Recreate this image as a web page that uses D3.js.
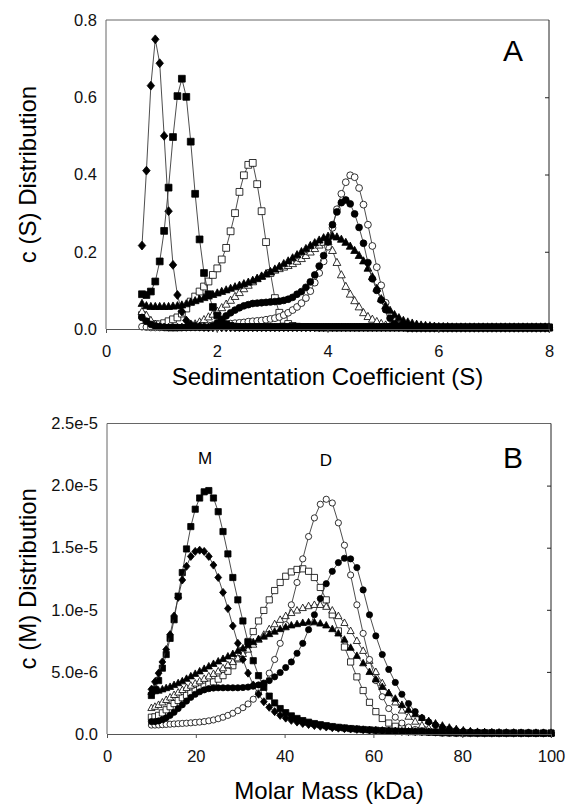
<!DOCTYPE html>
<html>
<head>
<meta charset="utf-8">
<script src="https://cdn.jsdelivr.net/npm/d3@7"></script>
<style>
  body { margin: 0; background: #fff; }
  svg { display: block; font-family: "Liberation Sans", Arial, sans-serif; }
</style>
</head>
<body>
<div id="chart"></div>
<script>
// ---- panel A: c(S), sedimentation coefficient grid (S)
const sGrid = [
  0.65,0.73,0.81,0.89,0.97,1.05,1.13,1.21,1.29,1.37,
  1.45,1.53,1.61,1.69,1.77,1.85,1.93,2.01,2.09,2.17,
  2.25,2.33,2.41,2.49,2.57,2.65,2.73,2.81,2.89,2.97,
  3.05,3.13,3.21,3.29,3.37,3.45,3.53,3.61,3.69,3.77,
  3.85,3.93,4.01,4.09,4.17,4.25,4.33,4.41,4.49,4.57,
  4.65,4.73,4.81,4.89,4.97,5.05,5.13,5.21,5.29,5.37,
  5.45,5.53,5.61,5.69,5.77,5.85,5.93,6.01,6.09,6.17,
  6.25,6.33,6.41,6.49,6.57,6.65,6.73,6.81,6.89,6.97,
  7.05,7.13,7.21,7.29,7.37,7.45,7.53,7.61,7.69,7.77,
  7.85,7.93,8.00];

const cS_diamond = [
  0.216,0.41,0.63,0.75,0.688,0.50,0.305,0.166,0.088,0.045,
  0.022,0.012,0.008,0.006,0.005,0.004,0.004,0.004,0.004,0.004,
  0.004,0.004,0.004,0.004,0.004,0.004,0.004,0.004,0.004,0.004,
  0.004,0.004,0.004,0.004,0.004,0.004,0.004,0.004,0.004,0.004,
  0.004,0.004,0.004,0.004,0.004,0.004,0.004,0.004,0.004,0.004,
  0.004,0.004,0.004,0.004,0.004,0.004,0.004,0.004,0.004,0.004,
  0.003,0.003,0.003,0.003,0.003,0.003,0.003,0.003,0.003,0.003,
  0.003,0.003,0.003,0.003,0.003,0.003,0.003,0.003,0.003,0.003,
  0.003,0.003,0.003,0.003,0.003,0.003,0.003,0.003,0.003,0.003,
  0.003,0.003,0.003];
const cS_squareF = [
  0.09,0.088,0.097,0.123,0.175,0.254,0.366,0.497,0.603,0.648,
  0.601,0.485,0.35,0.232,0.145,0.09,0.057,0.035,0.02,0.012,
  0.008,0.006,0.005,0.005,0.005,0.005,0.005,0.005,0.005,0.005,
  0.005,0.005,0.005,0.005,0.005,0.005,0.005,0.005,0.005,0.005,
  0.005,0.005,0.005,0.005,0.005,0.005,0.005,0.005,0.005,0.005,
  0.005,0.005,0.005,0.005,0.005,0.005,0.005,0.005,0.005,0.005,
  0.004,0.004,0.004,0.004,0.004,0.004,0.004,0.004,0.004,0.004,
  0.004,0.004,0.004,0.004,0.004,0.004,0.004,0.004,0.004,0.004,
  0.004,0.004,0.004,0.004,0.004,0.004,0.004,0.004,0.004,0.004,
  0.004,0.004,0.004];
const cS_squareO = [
  0.036,0.02,0.013,0.012,0.012,0.015,0.02,0.025,0.03,0.04,
  0.053,0.071,0.084,0.097,0.11,0.123,0.14,0.157,0.18,0.21,
  0.253,0.30,0.355,0.398,0.425,0.43,0.375,0.305,0.225,0.145,
  0.08,0.042,0.024,0.013,0.008,0.006,0.005,0.005,0.005,0.005,
  0.004,0.004,0.004,0.004,0.004,0.004,0.004,0.004,0.004,0.004,
  0.004,0.004,0.004,0.004,0.004,0.004,0.004,0.004,0.004,0.004,
  0.004,0.004,0.004,0.004,0.004,0.004,0.004,0.004,0.004,0.004,
  0.004,0.004,0.004,0.004,0.004,0.004,0.004,0.004,0.004,0.004,
  0.004,0.004,0.004,0.004,0.004,0.004,0.004,0.004,0.004,0.004,
  0.004,0.004,0.004];
const cS_triF = [
  0.066,0.06,0.058,0.058,0.058,0.058,0.058,0.059,0.06,0.062,
  0.065,0.069,0.073,0.077,0.081,0.085,0.089,0.093,0.097,0.101,
  0.105,0.109,0.113,0.117,0.121,0.126,0.131,0.136,0.142,0.148,
  0.155,0.162,0.169,0.176,0.184,0.192,0.2,0.208,0.216,0.223,
  0.23,0.236,0.24,0.241,0.238,0.232,0.224,0.214,0.203,0.19,
  0.176,0.157,0.135,0.105,0.078,0.06,0.048,0.037,0.029,0.022,
  0.018,0.015,0.012,0.01,0.009,0.008,0.007,0.006,0.006,0.006,
  0.005,0.005,0.005,0.005,0.005,0.005,0.005,0.005,0.005,0.005,
  0.005,0.005,0.005,0.005,0.005,0.005,0.005,0.005,0.005,0.005,
  0.005,0.005,0.005];
const cS_triO = [
  0.045,0.035,0.022,0.012,0.006,0.004,0.003,0.003,0.003,0.004,
  0.006,0.009,0.013,0.018,0.024,0.031,0.038,0.046,0.055,0.064,
  0.074,0.084,0.094,0.104,0.113,0.122,0.13,0.137,0.143,0.148,
  0.152,0.156,0.16,0.164,0.169,0.175,0.182,0.19,0.199,0.208,
  0.217,0.224,0.226,0.203,0.172,0.14,0.11,0.09,0.073,0.057,
  0.042,0.032,0.025,0.019,0.014,0.01,0.007,0.005,0.004,0.004,
  0.003,0.003,0.003,0.003,0.003,0.003,0.003,0.003,0.003,0.003,
  0.003,0.003,0.003,0.003,0.003,0.003,0.003,0.003,0.003,0.003,
  0.003,0.003,0.003,0.003,0.003,0.003,0.003,0.003,0.003,0.003,
  0.003,0.003,0.003];
const cS_circF = [
  0.03,0.02,0.012,0.008,0.006,0.005,0.004,0.004,0.004,0.004,
  0.004,0.004,0.004,0.004,0.004,0.004,0.008,0.016,0.025,0.034,
  0.042,0.049,0.055,0.06,0.063,0.066,0.067,0.068,0.069,0.07,
  0.071,0.072,0.074,0.077,0.082,0.09,0.097,0.108,0.122,0.14,
  0.163,0.19,0.225,0.27,0.303,0.327,0.334,0.324,0.298,0.263,
  0.222,0.172,0.13,0.1,0.075,0.05,0.028,0.014,0.008,0.005,
  0.004,0.004,0.004,0.004,0.004,0.004,0.004,0.004,0.004,0.004,
  0.004,0.004,0.004,0.004,0.004,0.004,0.004,0.004,0.004,0.004,
  0.004,0.004,0.004,0.004,0.004,0.004,0.004,0.004,0.004,0.004,
  0.004,0.004,0.004];
const cS_circO = [
  0.006,0.005,0.004,0.004,0.004,0.004,0.004,0.004,0.004,0.004,
  0.004,0.005,0.006,0.007,0.008,0.009,0.01,0.011,0.012,0.013,
  0.014,0.015,0.016,0.017,0.019,0.02,0.021,0.022,0.024,0.026,
  0.028,0.031,0.036,0.042,0.049,0.057,0.067,0.08,0.098,0.12,
  0.145,0.175,0.213,0.262,0.31,0.35,0.38,0.398,0.393,0.365,
  0.322,0.27,0.215,0.16,0.113,0.068,0.038,0.02,0.011,0.006,
  0.004,0.004,0.004,0.004,0.004,0.004,0.004,0.004,0.004,0.004,
  0.004,0.004,0.004,0.004,0.004,0.004,0.004,0.004,0.004,0.004,
  0.004,0.004,0.004,0.004,0.004,0.004,0.004,0.004,0.004,0.004,
  0.004,0.004,0.004];

const aXTicks = [0, 2, 4, 6, 8];
const aYTicks = [0, 0.2, 0.4, 0.6, 0.8];
const aYLabels = ["0.0", "0.2", "0.4", "0.6", "0.8"];

// ---- panel B: c(M), molar mass grid (kDa), values in units of 1e-6
const mGrid = [
  10.00,10.80,11.62,12.47,13.33,14.21,15.11,16.03,16.96,17.91,
  18.88,19.87,20.87,21.89,22.93,23.98,25.05,26.13,27.23,28.34,
  29.47,30.61,31.77,32.94,34.13,35.32,36.54,37.76,39.00,40.25,
  41.52,42.80,44.09,45.40,46.71,48.04,49.38,50.74,52.11,53.48,
  54.87,56.28,57.69,59.12,60.55,62.00,63.46,64.93,66.42,67.91,
  69.41,70.93,72.46,73.99,75.54,77.10,78.67,80.25,81.84,83.44,
  85.05,86.67,88.30,89.94,91.59,93.26,94.93,96.61,98.30,100.00];

const cM_squareF = [
  3.1,3.6,4.3,5.3,6.4,7.7,9.2,11.1,13.0,14.9,
  16.7,18.1,19.0,19.5,19.6,19.0,17.9,16.3,14.5,12.6,
  10.8,9.1,7.4,5.9,4.7,3.75,3.05,2.5,2.05,1.72,
  1.46,1.25,1.08,0.95,0.84,0.75,0.67,0.6,0.54,0.49,
  0.44,0.4,0.36,0.33,0.3,0.27,0.25,0.23,0.21,0.19,
  0.18,0.17,0.16,0.15,0.14,0.13,0.12,0.11,0.1,0.1,
  0.1,0.1,0.09,0.09,0.09,0.09,0.08,0.08,0.08,0.08];
const cM_diamond = [
  3.6,4.2,4.9,5.8,6.8,8.0,9.5,11.0,12.4,13.5,
  14.3,14.7,14.8,14.7,14.3,13.6,12.6,11.4,10.1,8.7,
  7.3,6.0,4.9,3.95,3.2,2.6,2.15,1.8,1.5,1.28,
  1.1,0.96,0.85,0.76,0.68,0.62,0.56,0.51,0.47,0.43,
  0.4,0.37,0.34,0.31,0.29,0.27,0.25,0.23,0.21,0.2,
  0.19,0.18,0.17,0.16,0.15,0.14,0.13,0.12,0.12,0.11,
  0.11,0.1,0.1,0.1,0.1,0.09,0.09,0.09,0.09,0.09];
const cM_circO = [
  0.72,0.72,0.73,0.75,0.77,0.79,0.81,0.83,0.85,0.87,
  0.9,0.93,0.96,1.0,1.06,1.13,1.23,1.35,1.5,1.67,
  1.88,2.12,2.42,2.8,3.3,4.0,4.9,6.0,7.3,8.8,
  10.4,12.2,14.1,15.9,17.4,18.5,18.9,18.6,17.0,15.2,
  12.8,10.4,8.1,6.0,4.3,3.0,2.05,1.35,0.88,0.56,
  0.36,0.23,0.15,0.1,0.07,0.05,0.04,0.03,0.03,0.02,
  0.02,0.02,0.02,0.02,0.02,0.02,0.02,0.02,0.02,0.02];
const cM_circF = [
  1.0,1.0,1.05,1.15,1.3,1.5,1.75,2.05,2.35,2.65,
  2.95,3.2,3.4,3.55,3.65,3.7,3.72,3.72,3.72,3.72,
  3.72,3.74,3.78,3.85,3.95,4.1,4.3,4.6,4.95,5.35,
  5.8,6.5,7.3,8.4,9.6,10.9,12.1,13.1,13.8,14.15,
  14.1,13.4,11.6,9.6,7.9,6.4,5.2,4.15,3.2,2.45,
  1.8,1.3,0.97,0.72,0.52,0.38,0.28,0.21,0.17,0.14,
  0.12,0.11,0.1,0.1,0.09,0.09,0.09,0.08,0.08,0.08];
const cM_triF = [
  3.4,3.45,3.5,3.6,3.7,3.8,3.95,4.1,4.25,4.45,
  4.65,4.85,5.05,5.25,5.45,5.65,5.85,6.05,6.25,6.45,
  6.7,6.9,7.15,7.4,7.65,7.85,8.05,8.25,8.45,8.6,
  8.75,8.85,8.95,9.0,9.0,8.9,8.75,8.45,8.1,7.6,
  6.95,6.3,5.7,5.0,4.4,3.8,3.3,2.85,2.35,1.95,
  1.6,1.3,1.05,0.85,0.68,0.52,0.4,0.3,0.23,0.18,
  0.15,0.13,0.11,0.1,0.1,0.09,0.09,0.08,0.08,0.08];
const cM_triO = [
  2.1,2.2,2.35,2.55,2.75,2.95,3.15,3.35,3.55,3.72,
  3.9,4.07,4.25,4.45,4.65,4.85,5.05,5.3,5.55,5.8,
  6.1,6.45,6.8,7.2,7.6,8.0,8.45,8.85,9.2,9.5,
  9.75,9.95,10.15,10.3,10.4,10.4,10.25,9.95,9.5,8.95,
  8.3,7.5,6.7,5.9,5.0,4.1,3.3,2.55,1.9,1.4,
  1.0,0.7,0.48,0.33,0.23,0.16,0.12,0.1,0.08,0.07,
  0.06,0.05,0.05,0.05,0.05,0.05,0.05,0.05,0.05,0.05];
const cM_squareO = [
  1.35,1.38,1.5,1.7,1.95,2.2,2.45,2.7,2.92,3.12,
  3.3,3.5,3.68,3.85,4.02,4.2,4.42,4.7,5.05,5.5,
  6.05,6.7,7.45,8.25,9.1,9.95,10.8,11.55,12.2,12.7,
  13.05,13.25,13.3,13.1,12.6,11.8,10.8,9.6,8.3,7.0,
  5.8,4.6,3.5,2.55,1.8,1.25,0.88,0.62,0.45,0.34,
  0.26,0.2,0.16,0.13,0.1,0.09,0.08,0.07,0.06,0.06,
  0.05,0.05,0.05,0.05,0.05,0.05,0.05,0.05,0.05,0.05];

const bXTicks = [0, 20, 40, 60, 80, 100];
const bYTicks = [0, 5, 10, 15, 20, 25];
const bYLabels = ["0.0", "5.0e-6", "1.0e-5", "1.5e-5", "2.0e-5", "2.5e-5"];

const svg = d3.select("#chart")
  .append("svg")
  .attr("width", 567)
  .attr("height", 806);

// SigmaPlot-like symbols, size = half width
function shape(kind) {
  return {
    draw(ctx, r) {
      if (kind === "square") {
        ctx.rect(-r, -r, 2 * r, 2 * r);
      } else if (kind === "diamond") {
        ctx.moveTo(0, -r * 1.3); ctx.lineTo(r * 1.1, 0);
        ctx.lineTo(0, r * 1.3); ctx.lineTo(-r * 1.1, 0); ctx.closePath();
      } else if (kind === "triangle") {
        ctx.moveTo(0, -r * 1.25); ctx.lineTo(r * 1.15, r * 0.85);
        ctx.lineTo(-r * 1.15, r * 0.85); ctx.closePath();
      } else {
        ctx.moveTo(r, 0); ctx.arc(0, 0, r, 0, 2 * Math.PI);
      }
    }
  };
}

function drawPanel(p) {
  const x = d3.scaleLinear().domain(p.xDomain).range([p.left, p.right]);
  const y = d3.scaleLinear().domain(p.yDomain).range([p.bottom, p.top]);
  const g = svg.append("g");

  const line = d3.line()
    .x((d, i) => x(p.grid[i]))
    .y(d => y(d));

  p.series.forEach(s => {
    g.append("path")
      .datum(s.values)
      .attr("d", line)
      .attr("fill", "none")
      .attr("stroke", "#3a3a3a")
      .attr("stroke-width", 0.9);
    g.selectAll(null)
      .data(s.values)
      .join("path")
      .attr("transform", (d, i) => "translate(" + x(p.grid[i]) + "," + y(d) + ")")
      .attr("d", d3.symbol().type(shape(s.shape)).size(p.r))
      .attr("fill", s.filled ? "#000" : "#fff")
      .attr("stroke", "#000")
      .attr("stroke-width", 0.8);
  });

  // frame
  const frame = svg.append("g").attr("fill", "none").attr("stroke-width", 1);
  frame.append("line").attr("x1", p.left).attr("x2", p.right).attr("y1", p.top).attr("y2", p.top).attr("stroke", "#666");
  frame.append("line").attr("x1", p.left).attr("x2", p.left).attr("y1", p.top).attr("y2", p.bottom).attr("stroke", "#666");
  frame.append("line").attr("x1", p.right).attr("x2", p.right).attr("y1", p.top).attr("y2", p.bottom).attr("stroke", "#222");

  // bottom axis, ticks outward
  const xAxis = svg.append("g")
    .attr("transform", "translate(0," + p.bottom + ")")
    .call(d3.axisBottom(x).tickValues(p.xTicks).tickSize(4).tickSizeOuter(0).tickPadding(12));
  xAxis.select(".domain").attr("stroke", "#555");
  xAxis.selectAll(".tick line").attr("stroke", "#555");
  xAxis.selectAll("text").attr("font-size", 16.5).attr("fill", "#111")
    .attr("font-family", "Liberation Sans, Arial, sans-serif");

  // left axis labels
  const yAxis = svg.append("g")
    .attr("transform", "translate(" + p.left + ",0)")
    .call(d3.axisLeft(y).tickValues(p.yTicks).tickFormat((d, i) => p.yLabels[i]).tickSize(0).tickPadding(9));
  yAxis.select(".domain").remove();
  yAxis.selectAll("text").attr("font-size", 16.5).attr("fill", "#111")
    .attr("font-family", "Liberation Sans, Arial, sans-serif");

  // right border ticks, inward
  const rAxis = svg.append("g")
    .attr("transform", "translate(" + p.right + ",0)")
    .call(d3.axisLeft(y).tickValues(p.yTicks.slice(1, -1)).tickFormat("").tickSize(4));
  rAxis.select(".domain").remove();
  rAxis.selectAll(".tick line").attr("stroke", "#222");

  // titles
  svg.append("text")
    .attr("x", (p.left + p.right) / 2)
    .attr("y", p.xTitleY)
    .attr("text-anchor", "middle")
    .attr("font-size", 24)
    .text(p.xTitle);
  svg.append("text")
    .attr("transform", "translate(36," + (p.top + p.bottom) / 2 + ") rotate(-90)")
    .attr("text-anchor", "middle")
    .attr("font-size", 24)
    .text(p.yTitle);
  svg.append("text")
    .attr("x", 503)
    .attr("y", p.labelY)
    .attr("font-size", 30)
    .text(p.label);
  return { x, y };
}

drawPanel({
  grid: sGrid,
  xDomain: [0, 8], yDomain: [0, 0.8],
  left: 106, right: 549, top: 20, bottom: 329,
  r: 3.4,
  xTicks: aXTicks, yTicks: aYTicks, yLabels: aYLabels,
  xTitle: "Sedimentation Coefficient (S)", xTitleY: 385,
  yTitle: "c (S) Distribution",
  label: "A", labelY: 61,
  series: [
    { values: cS_squareO, shape: "square", filled: false },
    { values: cS_triO, shape: "triangle", filled: false },
    { values: cS_circO, shape: "circle", filled: false },
    { values: cS_diamond, shape: "diamond", filled: true },
    { values: cS_squareF, shape: "square", filled: true },
    { values: cS_triF, shape: "triangle", filled: true },
    { values: cS_circF, shape: "circle", filled: true }
  ]
});

drawPanel({
  grid: mGrid,
  xDomain: [0, 100], yDomain: [0, 25],
  left: 107, right: 551, top: 423.5, bottom: 734,
  r: 3.1,
  xTicks: bXTicks, yTicks: bYTicks, yLabels: bYLabels,
  xTitle: "Molar Mass (kDa)", xTitleY: 799,
  yTitle: "c (M) Distribution",
  label: "B", labelY: 468,
  series: [
    { values: cM_squareO, shape: "square", filled: false },
    { values: cM_triO, shape: "triangle", filled: false },
    { values: cM_circO, shape: "circle", filled: false },
    { values: cM_squareF, shape: "square", filled: true },
    { values: cM_diamond, shape: "diamond", filled: true },
    { values: cM_triF, shape: "triangle", filled: true },
    { values: cM_circF, shape: "circle", filled: true }
  ]
});

// peak annotations in panel B
svg.append("text").attr("x", 205).attr("y", 464).attr("text-anchor", "middle")
  .attr("font-size", 17).text("M");
svg.append("text").attr("x", 326).attr("y", 466).attr("text-anchor", "middle")
  .attr("font-size", 17).text("D");
</script>
</body>
</html>
